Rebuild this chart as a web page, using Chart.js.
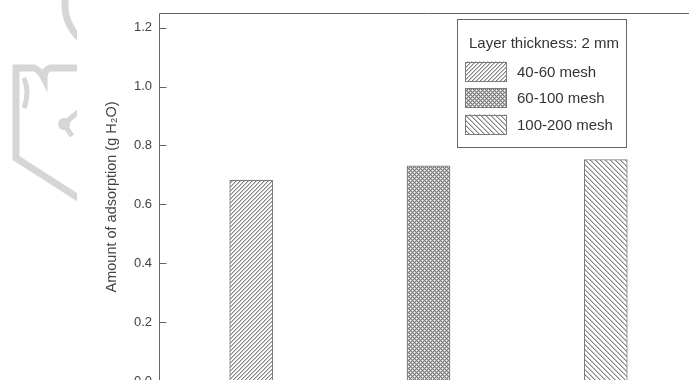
<!DOCTYPE html>
<html>
<head>
<meta charset="utf-8">
<script src="https://cdn.jsdelivr.net/npm/chart.js@4.4.1/dist/chart.umd.min.js"></script>
<style>
  html, body { margin: 0; padding: 0; background: #fff; overflow: hidden; width: 689px; height: 380px; }
  #wrap { position: relative; width: 720px; height: 440px; }
  canvas { display: block; }
</style>
</head>
<body>
<div id="wrap"><canvas id="c" width="720" height="440"></canvas></div>
<script>
// Adsorption per particle-size range, layer thickness 2 mm
const meshSizes = ['40-60 mesh', '60-100 mesh', '100-200 mesh'];
const positions = [1, 2, 3];
const adsorption = [0.682, 0.731, 0.752];
const hatchKinds = ['fwd', 'cross', 'back'];
const yTickValues = [0, 0.2, 0.4, 0.6, 0.8, 1.0, 1.2];
const legendTitle = 'Layer thickness: 2 mm';
const yTitle = 'Amount of adsorption (g H\u2082O)';

const FONT = "'Liberation Sans', Arial, Helvetica, sans-serif";
const INK = '#444';
const LINE = '#666';

const canvas = document.getElementById('c');
const ctx = canvas.getContext('2d');

// Pixel-tiled hatch fills: forward diagonal, cross-hatch and back diagonal
function makeHatch(kind) {
  const p = kind === 'back' ? 5 : 4;
  const t = document.createElement('canvas');
  t.width = p; t.height = p;
  const g = t.getContext('2d');
  g.fillStyle = '#fff';
  g.fillRect(0, 0, p, p);
  for (let y = 0; y < p; y++) {
    for (let x = 0; x < p; x++) {
      const s = (x + y) % p;
      const d = ((x - y) % p + p) % p;
      let col = null;
      if (kind === 'fwd') {
        if (s === 0) col = '#858585'; else if (s === 1) col = '#c4c4c4';
      } else if (kind === 'back') {
        if (d === 0) col = '#858585'; else if (d === 1) col = '#c4c4c4';
      } else {
        if (s === 0 || d === 0) col = '#7a7a7a';
        else if ((x + y) % 2 === 1) col = '#bdbdbd';
      }
      if (col) { g.fillStyle = col; g.fillRect(x, y, 1, 1); }
    }
  }
  return ctx.createPattern(t, 'repeat');
}
const fills = hatchKinds.map(makeHatch);

const datasets = meshSizes.map((name, i) => ({
  label: name,
  data: [{ x: positions[i], y: adsorption[i] }],
  backgroundColor: fills[i],
  borderColor: '#7a7a7a',
  borderWidth: 1,
  borderSkipped: false,
  grouped: false,
  barThickness: 43
}));

// Faint emblem in the upper-left corner
const emblemPlugin = {
  id: 'emblem',
  beforeDraw(chart) {
    const c = chart.ctx;
    c.save();
    c.beginPath();
    c.rect(0, 0, 77, 215);
    c.clip();
    c.strokeStyle = '#d6d6d6';
    c.fillStyle = '#d6d6d6';
    c.lineWidth = 7;
    c.lineJoin = 'miter';
    c.beginPath();
    c.arc(110, 5, 45, Math.PI * 0.55, Math.PI * 1.05);
    c.stroke();
    c.beginPath();
    c.moveTo(80, 68);
    c.lineTo(50, 68);
    c.quadraticCurveTo(44, 70, 44, 78);
    c.quadraticCurveTo(40, 70, 34, 68);
    c.lineTo(16, 68);
    c.lineTo(16, 158);
    c.lineTo(80, 199);
    c.stroke();
    c.lineWidth = 5;
    c.beginPath();
    c.moveTo(24, 78);
    c.quadraticCurveTo(30, 92, 24, 108);
    c.stroke();
    c.beginPath();
    c.arc(64, 124, 6, 0, Math.PI * 2);
    c.fill();
    c.beginPath();
    c.moveTo(64, 124); c.lineTo(78, 112);
    c.moveTo(64, 124); c.lineTo(72, 136);
    c.stroke();
    c.restore();
  }
};

// Plot frame (left and top edges) with inward tick marks
const framePlugin = {
  id: 'frame',
  afterDraw(chart) {
    const { ctx: c, chartArea: a } = chart;
    const y = chart.scales.y;
    const left = Math.round(a.left) + 0.5;
    const top = Math.round(a.top) + 0.5;
    c.save();
    c.strokeStyle = LINE;
    c.lineWidth = 1;
    c.beginPath();
    c.moveTo(left, a.bottom + 20);
    c.lineTo(left, top);
    c.lineTo(a.right, top);
    c.stroke();
    c.beginPath();
    y.ticks.forEach(t => {
      const py = Math.round(y.getPixelForValue(t.value)) + 0.5;
      c.moveTo(left, py);
      c.lineTo(left + 7, py);
    });
    c.stroke();
    c.restore();
  }
};

// Boxed legend with a heading line
const legendBox = {
  id: 'legendBox',
  afterDraw(chart) {
    const c = chart.ctx;
    const bx = 457.5, by = 19.5, bw = 169, bh = 128;
    c.save();
    c.fillStyle = '#fff';
    c.fillRect(bx, by, bw, bh);
    c.strokeStyle = LINE;
    c.lineWidth = 1;
    c.strokeRect(bx, by, bw, bh);
    c.fillStyle = '#333';
    c.font = '15px ' + FONT;
    c.textBaseline = 'middle';
    c.textAlign = 'left';
    c.fillText(legendTitle, 469, 44);
    chart.data.datasets.forEach((ds, i) => {
      const cy = 71.5 + i * 26.5;
      const sx = 465, sw = 42, sh = 20;
      c.fillStyle = ds.backgroundColor;
      c.fillRect(sx, cy - sh / 2, sw, sh);
      c.strokeStyle = '#7a7a7a';
      c.strokeRect(sx + 0.5, Math.round(cy - sh / 2) + 0.5, sw - 1, sh - 1);
      c.fillStyle = '#333';
      c.fillText(ds.label, 517, cy + 1);
    });
    c.restore();
  }
};

new Chart(ctx, {
  type: 'bar',
  data: { datasets },
  options: {
    responsive: false,
    animation: false,
    events: [],
    layout: { padding: { left: 0, top: 13, right: 22, bottom: 59 } },
    plugins: { legend: { display: false }, tooltip: { enabled: false } },
    scales: {
      x: {
        type: 'linear',
        offset: false,
        min: 0.48,
        max: 3.52,
        display: false
      },
      y: {
        min: 0,
        max: 1.25,
        grid: { display: false },
        border: { display: false },
        afterBuildTicks: s => { s.ticks = yTickValues.map(v => ({ value: v })); },
        afterFit: s => { s.width = 159; },
        ticks: {
          padding: -1,
          color: INK,
          font: { family: FONT, size: 13 },
          callback: v => Number(v).toFixed(1)
        },
        title: {
          display: true,
          text: yTitle,
          color: INK,
          font: { family: FONT, size: 14.5 },
          padding: { top: 103, bottom: 0 }
        }
      }
    }
  },
  plugins: [emblemPlugin, framePlugin, legendBox]
});
</script>
</body>
</html>
